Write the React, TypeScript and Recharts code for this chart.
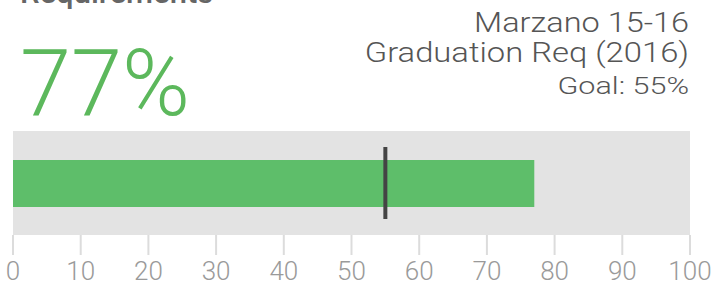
import React from 'react';
import { BarChart, Bar, XAxis, YAxis, CartesianGrid, ReferenceLine } from 'recharts';

const categories = ['Marzano 15-16'];
const values = [77];
const goals = [55];
const ticks = [0, 10, 20, 30, 40, 50, 60, 70, 80, 90, 100];
const title = 'Requirements';
const subtitleLines = ['Marzano 15-16', 'Graduation Req (2016)'];
const goalLabel = 'Goal: 55%';
const bigValue = '77%';

const data = categories.map((c, i) => ({ name: c, value: values[i], goal: goals[i] }));

const FONT = 'Roboto, "Noto Sans", sans-serif';

const GoalShape = (props: any) => {
  const { x1, y1, y2 } = props;
  const cy = (y1 + y2) / 2;
  const half = 36;
  return <line x1={x1} x2={x1} y1={cy - half} y2={cy + half} stroke="#444444" strokeWidth={4} />;
};

export default function App() {
  return (
    <div style={{ position: 'absolute', top: 0, left: 0, width: 715, height: 285, background: '#fff', overflow: 'hidden' }}>
      <BarChart
        width={715}
        height={285}
        data={data}
        layout="vertical"
        margin={{ top: 131, right: 25, bottom: 0, left: 13 }}
      >
        <CartesianGrid horizontal={false} vertical={false} fill="#e3e3e3" />
        <XAxis
          type="number"
          domain={[0, 100]}
          ticks={ticks}
          axisLine={false}
          tickSize={20}
          tickMargin={7}
          height={50}
          tickLine={{ stroke: '#dcdcdc', strokeWidth: 2 }}
          tick={{ fill: '#9a9a9a', fontSize: 26, fontFamily: FONT, fontWeight: 300 }}
          interval={0}
        />
        <YAxis type="category" dataKey="name" hide />
        <Bar dataKey="value" fill="#5ebe6a" barSize={47} isAnimationActive={false} />
        <ReferenceLine x={goals[0]} shape={GoalShape} />
      </BarChart>
      <svg width={715} height={285} style={{ position: 'absolute', top: 0, left: 0, pointerEvents: 'none' }}>
        <text x={20} y={3} fontFamily={FONT} fontWeight={500} fontSize={31} fill="#666">{title}</text>
        <text x={20} y={115} fontFamily={FONT} fontWeight={300} fontSize={92} fill="#5cb85c">{bigValue}</text>
        <g transform="translate(689,32) scale(1.16,1)">
          <text x={0} y={0} textAnchor="end" fontFamily={FONT} fontWeight={300} fontSize={28} fill="#555">{subtitleLines[0]}</text>
        </g>
        <g transform="translate(689,62) scale(1.17,1)">
          <text x={0} y={0} textAnchor="end" fontFamily={FONT} fontWeight={300} fontSize={28} fill="#555">{subtitleLines[1]}</text>
        </g>
        <g transform="translate(689,94) scale(1.3,1)">
          <text x={0} y={0} textAnchor="end" fontFamily={FONT} fontWeight={300} fontSize={23.5} fill="#555">{goalLabel}</text>
        </g>
      </svg>
    </div>
  );
}
